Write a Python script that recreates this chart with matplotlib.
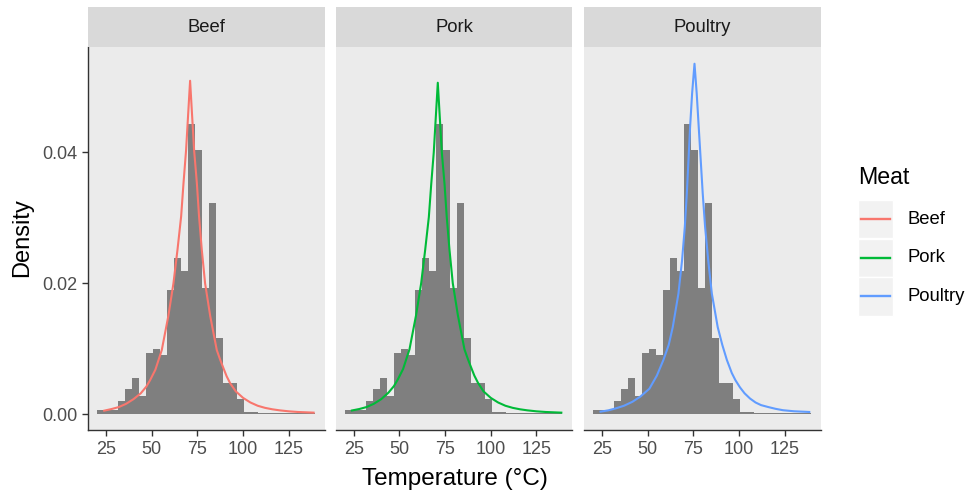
import matplotlib
matplotlib.use("Agg")
import matplotlib.pyplot as plt
from matplotlib.patches import Rectangle
from matplotlib.lines import Line2D
import numpy as np

plt.rcParams['font.family'] = ['Liberation Sans', 'DejaVu Sans']

# ---------------- data ----------------
meats = ["Beef", "Pork", "Poultry"]
meat_colors = ["#F8766D", "#00BA38", "#619CFF"]

hist_edges = [20.20, 24.04, 27.87, 31.71, 35.54, 39.38, 43.21, 47.05, 50.88,
              54.72, 58.55, 62.39, 66.22, 70.06, 73.89, 77.73, 81.56, 85.40,
              89.23, 93.07, 96.90, 100.74, 104.57, 108.41, 112.24, 116.08,
              119.91, 123.75, 127.58, 131.42, 135.25, 139.09]
hist_density = [0.0006, 0.0006, 0.0006, 0.0020, 0.0038, 0.0056, 0.0028, 0.0094,
                0.0099, 0.0090, 0.0190, 0.0239, 0.0218, 0.0443, 0.0403, 0.0192,
                0.0322, 0.0116, 0.0048, 0.0048, 0.0023, 0.0004, 0.0004, 0.00015,
                0.00015, 0.00015, 0.00015, 0.00015, 0.00015, 0.00015, 0.00015]

beef_x = [24.0, 28.0, 32.0, 36.0, 40.0, 44.0, 47.0, 49.1, 52.0, 55.5, 59.1, 61.9,
          64.1, 66.1, 67.4, 68.8, 71.0, 73.2, 74.7, 75.9, 77.4, 79.2, 82.0, 85.6,
          87.5, 89.3, 91.0, 93.0, 96.0, 100.0, 104.0, 108.0, 112.0, 116.0, 120.0,
          125.0, 130.0, 138.6]
beef_y = [0.00055, 0.0008, 0.0011, 0.0016, 0.0023, 0.0032, 0.0042, 0.0052, 0.0068,
          0.0098, 0.0150, 0.0200, 0.0251, 0.0302, 0.0353, 0.0403, 0.0509, 0.0403,
          0.0353, 0.0302, 0.0251, 0.0200, 0.0150, 0.0098, 0.0083, 0.0070, 0.0058,
          0.0047, 0.0035, 0.0025, 0.0018, 0.0013, 0.00098, 0.00076, 0.0006,
          0.00045, 0.00035, 0.00025]

pork_x = [24.0, 28.0, 32.0, 36.0, 40.0, 44.0, 47.0, 49.1, 52.0, 55.5, 59.1, 61.9,
          64.1, 66.1, 67.4, 68.8, 71.0, 73.2, 74.7, 75.9, 77.4, 79.2, 82.0, 85.6,
          87.5, 89.3, 91.0, 93.0, 96.0, 100.0, 104.0, 108.0, 112.0, 116.0, 120.0,
          125.0, 130.0, 138.6]
pork_y = [0.00058, 0.0008, 0.0011, 0.0016, 0.0023, 0.0033, 0.0043, 0.0053, 0.0069,
          0.0099, 0.0151, 0.0200, 0.0251, 0.0301, 0.0351, 0.0400, 0.0506, 0.0400,
          0.0351, 0.0301, 0.0251, 0.0200, 0.0151, 0.0099, 0.0084, 0.0071, 0.0059,
          0.0048, 0.0035, 0.0025, 0.0018, 0.0013, 0.00098, 0.00076, 0.0006,
          0.00045, 0.00035, 0.00025]

poultry_x = [24.2, 28.5, 32.5, 37.0, 41.6, 46.0, 50.9, 55.0, 58.6, 61.5, 63.7,
             66.8, 68.8, 70.3, 71.4, 72.3, 73.2, 74.3, 75.6, 76.8, 77.9, 79.0,
             80.1, 81.4, 83.1, 85.1, 88.3, 90.8, 93.3, 96.0, 98.0, 100.5, 103.0,
             106.0, 109.0, 112.0, 116.0, 120.0, 124.0, 130.0, 138.4]
poultry_y = [0.0004, 0.0006, 0.0009, 0.0013, 0.0019, 0.0027, 0.0039, 0.0059,
             0.0083, 0.0106, 0.0133, 0.0184, 0.0235, 0.0286, 0.0337, 0.0388,
             0.0439, 0.0490, 0.0535, 0.0490, 0.0439, 0.0388, 0.0337, 0.0286,
             0.0235, 0.0184, 0.0133, 0.0106, 0.0083, 0.0063, 0.0052, 0.0041,
             0.0032, 0.0024, 0.0018, 0.0014, 0.0011, 0.00083, 0.00062, 0.00046,
             0.00035]

curves_x = [beef_x, pork_x, poultry_x]
curves_y = [beef_y, pork_y, poultry_y]

x_ticks = [25, 50, 75, 100, 125]
x_tick_labels = ["25", "50", "75", "100", "125"]
y_ticks = [0.00, 0.02, 0.04]
y_tick_labels = ["0.00", "0.02", "0.04"]

x_title = "Temperature (°C)"
y_title = "Density"
legend_title = "Meat"

# ---------------- layout ----------------
W, H = 972, 493
fig = plt.figure(figsize=(W / 100, H / 100), dpi=100)


def fx(px):
    return px / W


def fy(py):
    return 1 - py / H


panel_left = [88.3, 336.0, 584.3]
panel_w = 236.3
panel_top, panel_bottom = 46.7, 430.0
strip_top = 7.3

axis_col = "#333333"
tick_lab_col = "#4D4D4D"

for i, meat in enumerate(meats):
    l = panel_left[i]
    ax = fig.add_axes([fx(l), fy(panel_bottom), panel_w / W,
                       (panel_bottom - panel_top) / H])
    ax.set_facecolor("#EBEBEB")
    ax.bar(hist_edges[:-1], hist_density, width=np.diff(hist_edges),
           align="edge", color="#7F7F7F", linewidth=0)
    ax.plot(curves_x[i], curves_y[i], color=meat_colors[i], lw=1.5,
            solid_joinstyle="round")
    ax.set_xlim(15.3, 144.6)
    ax.set_ylim(-0.0024, 0.0561)
    ax.set_xticks(x_ticks)
    ax.set_xticklabels(x_tick_labels)
    ax.set_yticks(y_ticks)
    ax.set_yticklabels(y_tick_labels)
    for s in ["top", "right"]:
        ax.spines[s].set_visible(False)
    ax.spines["bottom"].set_color(axis_col)
    ax.spines["bottom"].set_linewidth(1.0)
    ax.tick_params(axis="both", colors=axis_col, labelcolor=tick_lab_col,
                   labelsize=13, length=4.4, width=1.0, pad=3.2)
    if i == 0:
        ax.spines["left"].set_color(axis_col)
        ax.spines["left"].set_linewidth(1.0)
    else:
        ax.spines["left"].set_visible(False)
        ax.tick_params(axis="y", left=False, labelleft=False)

    # strip
    sax = fig.add_axes([fx(l), fy(panel_top), panel_w / W,
                        (panel_top - strip_top) / H])
    sax.set_facecolor("#D9D9D9")
    sax.set_xticks([])
    sax.set_yticks([])
    for s in sax.spines.values():
        s.set_visible(False)
    sax.text(0.5, 0.5, meat, ha="center", va="center", fontsize=13.3,
             color="#1A1A1A", transform=sax.transAxes)

# axis titles
fig.text(fx(455), fy(479), x_title, ha="center", va="center", fontsize=17.5,
         color="black")
fig.text(fx(22), fy(238), y_title, ha="center", va="center", fontsize=17,
         rotation=90, color="black")

# legend
fig.text(fx(857.7), fy(184.3), legend_title, ha="left", va="baseline",
         fontsize=16.7, color="black")
key_x, key_w, key_h = 857.7, 35.6, 38.3
key_tops = [200.0, 238.6, 277.2]
for i, meat in enumerate(meats):
    t = key_tops[i]
    fig.add_artist(Rectangle((fx(key_x), fy(t + key_h)), key_w / W, key_h / H,
                             transform=fig.transFigure, facecolor="#F2F2F2",
                             edgecolor="white", linewidth=1.0))
    yc = t + key_h / 2
    fig.add_artist(Line2D([fx(key_x + 3.5), fx(key_x + key_w - 3.5)],
                          [fy(yc), fy(yc)], transform=fig.transFigure,
                          color=meat_colors[i], lw=1.7))
    fig.text(fx(907), fy(yc), meat, ha="left", va="center", fontsize=13.3,
             color="black")

fig.savefig("out.png", dpi=100)
